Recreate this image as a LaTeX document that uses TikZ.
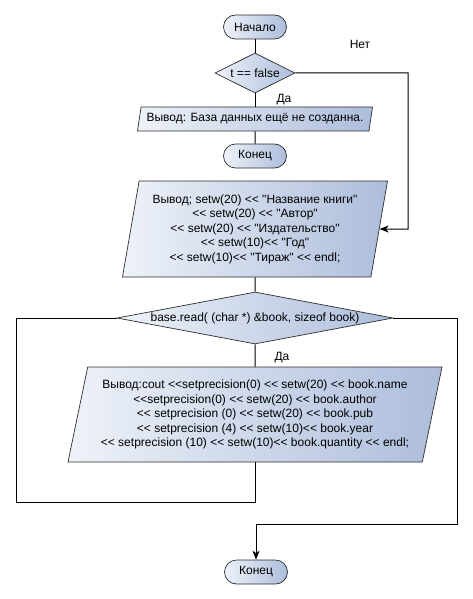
\documentclass[tikz,border=0pt]{standalone}
\usepackage{fontspec}
\setmainfont{Liberation Sans}[Ligatures=TeXOff]
\usetikzlibrary{shapes.geometric,arrows.meta}
\definecolor{fillL}{RGB}{238,242,249}
\definecolor{fillR}{RGB}{172,189,219}
\definecolor{edge}{RGB}{45,45,45}
% stream operator, kept as two separate characters
\newcommand\opout{<\kern0pt<}
\begin{document}
\begin{tikzpicture}[x=1pt,y=-1pt,
  font=\fontsize{12}{14.5}\selectfont,
  blockfill/.style={left color=fillL,right color=fillR,draw=edge,line width=0.7pt},
  term/.style={blockfill,rectangle,rounded corners=12pt,minimum width=63pt,minimum height=24pt,inner sep=0pt},
  cond/.style={blockfill,diamond,inner sep=0pt},
  io/.style={blockfill,trapezium,trapezium stretches body=true,inner sep=0pt,align=center},
  link/.style={line width=1pt,black},
  arrow/.style={link,-{Stealth[length=9pt,width=7pt,inset=2.5pt]}},
  lbl/.style={inner sep=0pt}]
\useasboundingbox (0,0) rectangle (472,599);

% blocks
\node[term] (start) at (255,27) {Начало};
\node[cond,minimum width=80pt,minimum height=40pt,aspect=2] (d1) at (255,73) {t == false};
\node[io,trapezium left angle=71.6,trapezium right angle=108.4,
      minimum width=235pt,minimum height=24pt] (out1) at (255,119)
      {Вывод: База данных ещё не созданна.};
\node[term] (end1) at (255,156) {Конец};
\node[io,trapezium left angle=76.5,trapezium right angle=103.5,
      minimum width=265pt,minimum height=96pt] (out2) at (255,229)
      {Вывод; setw(20) \opout{} "Название книги"\\
       \opout{} setw(20) \opout{} "Автор"\\
       \opout{} setw(20) \opout{} "Издательство"\\
       \opout{} setw(10)\opout{} "Год"\\
       \opout{} setw(10)\opout{} "Тираж" \opout{} endl;};
\node[cond,minimum width=276pt,minimum height=52pt,aspect=5.3] (d2) at (255,318)
      {base.read( (char *) \&book, sizeof book)};
\node[io,trapezium left angle=74.1,trapezium right angle=105.9,
      minimum width=374pt,minimum height=95pt] (out3) at (255,414.5)
      {Вывод:cout \opout{}setprecision(0) \opout{} setw(20) \opout{} book.name\\
       \opout{}setprecision(0) \opout{} setw(20) \opout{} book.author\\
       \opout{} setprecision (0) \opout{} setw(20) \opout{} book.pub\\
       \opout{} setprecision (4) \opout{} setw(10)\opout{} book.year\\
       \opout{} setprecision (10) \opout{} setw(10)\opout{} book.quantity \opout{} endl;};
\node[term] (end2) at (256,572) {Конец};

% bend points
\coordinate (r1) at (408,229);
\coordinate (l1) at (16,502);
\coordinate (r2) at (457,524);

% connectors
\draw[link] (start) -- (d1);
\draw[link] (d1) -- (out1);
\draw[link] (out1) -- (end1);
\draw[arrow] (d1.east) -| (r1) -- (out2.east);
\draw[link] (out2) -- (d2);
\draw[link] (d2) -- (out3);
\draw[link] (out3.south) |- (l1) |- (d2.west);
\draw[arrow] (d2.east) -| (r2) -| (end2.north);

% labels
\node[lbl] (no1) at (360,44) {Нет};
\node[lbl] (yes1) at (284,100) {Да};
\node[lbl] (yes2) at (282,358) {Да};
\end{tikzpicture}
\end{document}
